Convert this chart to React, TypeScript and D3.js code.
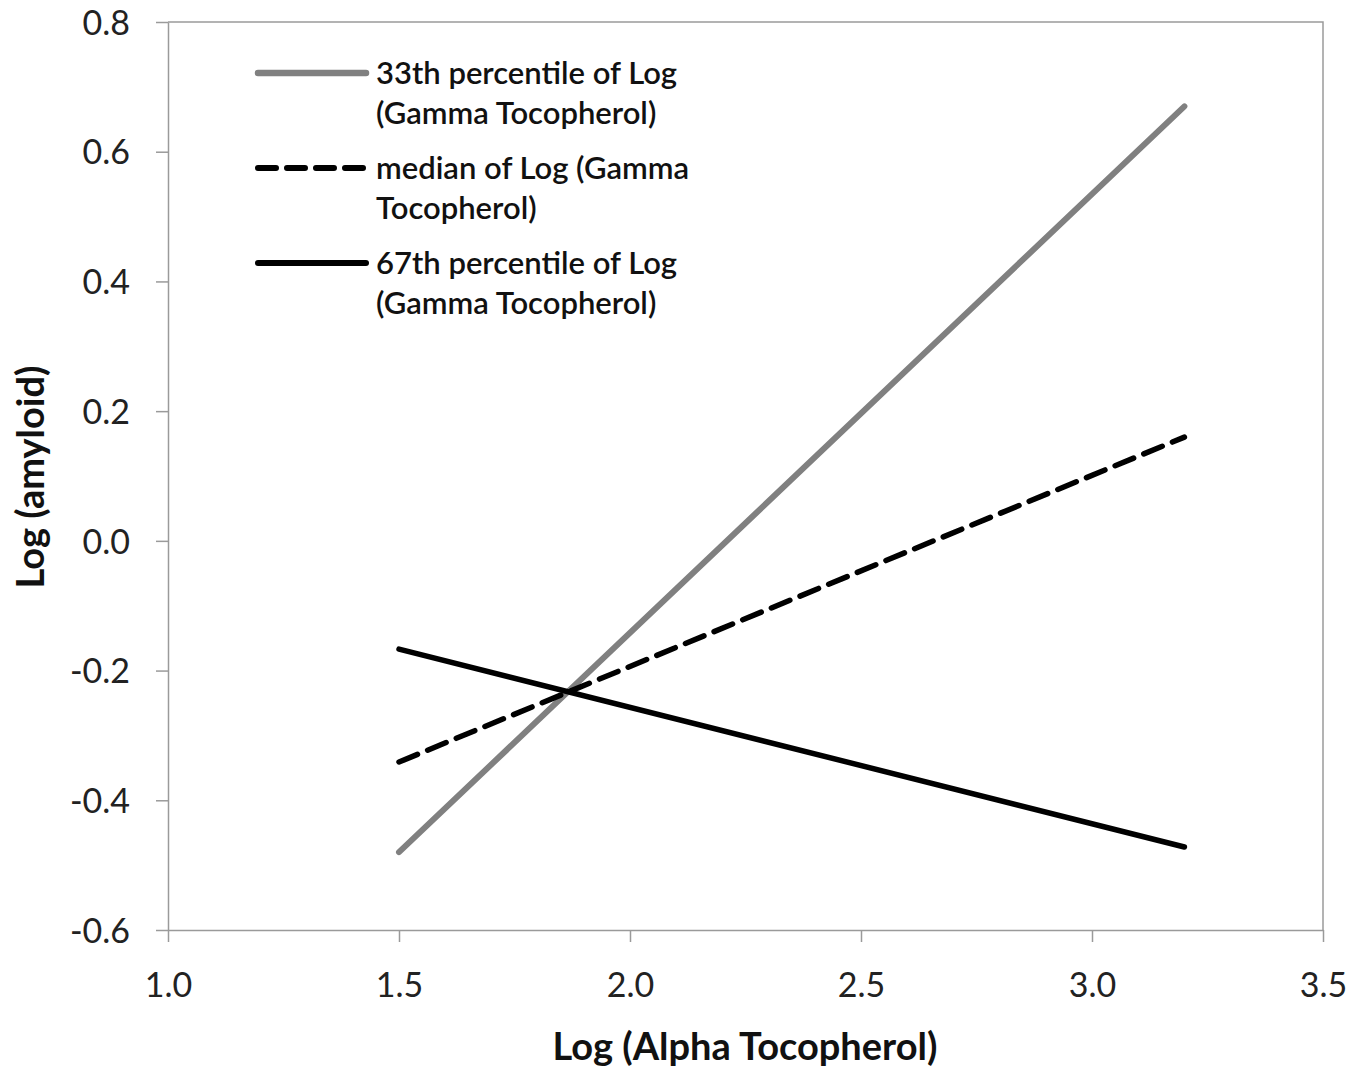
import React, { useRef, useEffect } from 'react';
import * as d3 from 'd3';

// x positions (Log Alpha Tocopherol)
const xValues = [1.5, 3.2];

// predicted Log(amyloid) for each gamma tocopherol level
const p33Values = [-0.48, 0.67];
const medianValues = [-0.341, 0.16];
const p67Values = [-0.167, -0.472];

const xTicks = [1.0, 1.5, 2.0, 2.5, 3.0, 3.5];
const yTicks = [0.8, 0.6, 0.4, 0.2, 0.0, -0.2, -0.4, -0.6];

const seriesNames = [
  ['33th percentile of Log', '(Gamma Tocopherol)'],
  ['median of Log (Gamma', 'Tocopherol)'],
  ['67th percentile of Log', '(Gamma Tocopherol)'],
];

const FONT = 'Lato, "Open Sans", sans-serif';

const App = () => {
  const ref = useRef<SVGSVGElement>(null);

  useEffect(() => {
    const svg = d3.select(ref.current);
    svg.selectAll('*').remove();

    const margin = { top: 22, right: 43, bottom: 139, left: 168 };
    const width = 1366 - margin.left - margin.right;
    const height = 1069 - margin.top - margin.bottom;

    const g = svg.append('g').attr('transform', `translate(${margin.left},${margin.top})`);

    const x = d3.scaleLinear().domain([1.0, 3.5]).range([0, width]);
    const y = d3.scaleLinear().domain([-0.6, 0.8]).range([height, 0]);

    // plain hyphen for negatives, like the original
    const fmt = (d: d3.NumberValue) => (+d).toFixed(1);

    // plot frame (top and right)
    g.append('path')
      .attr('d', `M0,0H${width}V${height}`)
      .attr('fill', 'none')
      .attr('stroke', '#9a9a9a')
      .attr('stroke-width', 1.5);

    const xAxis = g.append('g')
      .attr('transform', `translate(0,${height})`)
      .call(d3.axisBottom(x).tickValues(xTicks).tickFormat(fmt).tickSize(12).tickSizeOuter(0).tickPadding(31));
    const yAxis = g.append('g')
      .call(d3.axisLeft(y).tickValues(yTicks).tickFormat(fmt).tickSize(12).tickSizeOuter(0).tickPadding(26));

    [xAxis, yAxis].forEach(a => {
      a.selectAll('path, line').attr('stroke', '#9a9a9a').attr('stroke-width', 1.5);
      a.selectAll('text')
        .attr('font-family', FONT)
        .attr('font-size', 34)
        .attr('fill', '#222');
    });
    yAxis.selectAll('text').attr('dy', '0.36em');
    xAxis.selectAll('text').attr('dy', '0.71em');

    const line = d3.line<number>()
      .x((_, i) => x(xValues[i]))
      .y(d => y(d));

    const styles = [
      { data: p33Values, color: '#808080', width: 6, dash: null },
      { data: medianValues, color: '#000', width: 5.5, dash: '20 11' },
      { data: p67Values, color: '#000', width: 5.5, dash: null },
    ];

    styles.forEach(s => {
      g.append('path')
        .datum(s.data)
        .attr('fill', 'none')
        .attr('stroke', s.color)
        .attr('stroke-width', s.width)
        .attr('stroke-linecap', 'round')
        .attr('stroke-dasharray', s.dash)
        .attr('d', line);
    });

    // legend
    const legend = svg.append('g').attr('transform', 'translate(258,73)');
    styles.forEach((s, i) => {
      const row = legend.append('g').attr('transform', `translate(0,${i * 95})`);
      row.append('line')
        .attr('x1', 0).attr('x2', 108).attr('y1', 0).attr('y2', 0)
        .attr('stroke', s.color)
        .attr('stroke-width', s.width + 0.5)
        .attr('stroke-linecap', 'round')
        .attr('stroke-dasharray', s.dash ? '18 11' : null);
      seriesNames[i].forEach((t, j) => {
        row.append('text')
          .attr('x', 118)
          .attr('y', 11 + j * 40)
          .attr('font-family', FONT)
          .attr('font-size', 31)
          .attr('font-weight', 600)
          .attr('fill', '#111')
          .text(t);
      });
    });

    // axis titles
    svg.append('text')
      .attr('x', 745)
      .attr('y', 1060)
      .attr('text-anchor', 'middle')
      .attr('font-family', FONT)
      .attr('font-size', 38)
      .attr('font-weight', 'bold')
      .attr('fill', '#111')
      .text('Log (Alpha Tocopherol)');

    svg.append('text')
      .attr('transform', 'translate(44,477) rotate(-90)')
      .attr('text-anchor', 'middle')
      .attr('font-family', FONT)
      .attr('font-size', 38)
      .attr('font-weight', 'bold')
      .attr('fill', '#111')
      .text('Log (amyloid)');
  }, []);

  return (
    <svg
      ref={ref}
      width={1366}
      height={1069}
      style={{ position: 'absolute', left: 0, top: 0, background: '#fff' }}
    />
  );
};

export default App;
